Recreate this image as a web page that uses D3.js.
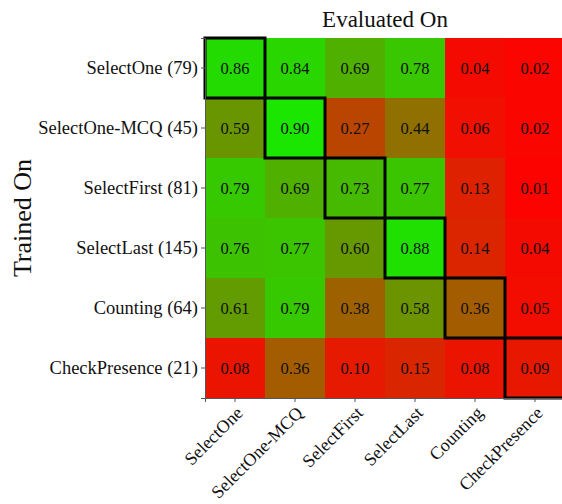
<!DOCTYPE html>
<html>
<head>
<meta charset="utf-8">
<script src="https://cdn.jsdelivr.net/npm/d3@7"></script>
<style>
  body { margin: 0; background: #fff; }
  svg { display: block; font-family: "Liberation Serif", "DejaVu Serif", serif; }
</style>
</head>
<body>
<div id="chart"></div>
<script>
// trained-on tasks (rows) and evaluated-on tasks (columns)
const trainedOn = ["SelectOne (79)", "SelectOne-MCQ (45)", "SelectFirst (81)", "SelectLast (145)", "Counting (64)", "CheckPresence (21)"];
const evaluatedOn = ["SelectOne", "SelectOne-MCQ", "SelectFirst", "SelectLast", "Counting", "CheckPresence"];
const scores = [
  [0.86, 0.84, 0.69, 0.78, 0.04, 0.02],
  [0.59, 0.90, 0.27, 0.44, 0.06, 0.02],
  [0.79, 0.69, 0.73, 0.77, 0.13, 0.01],
  [0.76, 0.77, 0.60, 0.88, 0.14, 0.04],
  [0.61, 0.79, 0.38, 0.58, 0.36, 0.05],
  [0.08, 0.36, 0.10, 0.15, 0.08, 0.09]
];

const width = 562, height = 504;
const margin = {top: 38, right: -3, bottom: 106, left: 205};

const svg = d3.select("#chart").append("svg")
  .attr("width", width)
  .attr("height", height);

const g = svg.append("g")
  .attr("transform", "translate(" + margin.left + "," + margin.top + ")");

const w = width - margin.left - margin.right,
      h = height - margin.top - margin.bottom;

const x = d3.scaleBand().domain(evaluatedOn).range([0, w]);
const y = d3.scaleBand().domain(trainedOn).range([0, h]);
const color = d3.scaleLinear().domain([0, 1])
  .range(["#ff0000", "#00ff00"])
  .interpolate(d3.interpolateRgb);

const cells = [];
scores.forEach(function(row, i) {
  row.forEach(function(v, j) {
    cells.push({r: trainedOn[i], c: evaluatedOn[j], v: v, diag: i === j});
  });
});

g.selectAll("rect.cell")
  .data(cells)
  .enter().append("rect")
  .attr("class", "cell")
  .attr("x", function(d) { return x(d.c); })
  .attr("y", function(d) { return y(d.r); })
  .attr("width", x.bandwidth() + 0.5)
  .attr("height", y.bandwidth() + 0.5)
  .attr("fill", function(d) { return color(d.v); });

g.selectAll("text.val")
  .data(cells)
  .enter().append("text")
  .attr("class", "val")
  .attr("x", function(d) { return x(d.c) + x.bandwidth() / 2; })
  .attr("y", function(d) { return y(d.r) + y.bandwidth() / 2; })
  .attr("dy", "0.35em")
  .attr("text-anchor", "middle")
  .attr("font-size", 16.5)
  .attr("fill", "#111")
  .text(function(d) { return d.v.toFixed(2); });

// diagonal boxes
g.selectAll("rect.diag")
  .data(cells.filter(function(d) { return d.diag; }))
  .enter().append("rect")
  .attr("class", "diag")
  .attr("x", function(d) { return x(d.c); })
  .attr("y", function(d) { return y(d.r); })
  .attr("width", x.bandwidth())
  .attr("height", y.bandwidth())
  .attr("fill", "none")
  .attr("stroke", "#000")
  .attr("stroke-width", 3);

// axes
const yAxis = g.append("g")
  .call(d3.axisLeft(y).tickSize(4).tickPadding(3));
yAxis.select(".domain").attr("stroke", "#555");
yAxis.selectAll(".tick line").attr("stroke", "#555");
yAxis.selectAll("text")
  .attr("font-family", "Liberation Serif, serif")
  .attr("font-size", 18.5)
  .attr("fill", "#111");

const xAxis = g.append("g")
  .attr("transform", "translate(0," + h + ")")
  .call(d3.axisBottom(x).tickSize(4));
xAxis.select(".domain").attr("stroke", "#555");
xAxis.selectAll(".tick line").attr("stroke", "#555");
xAxis.selectAll("text")
  .attr("font-family", "Liberation Serif, serif")
  .attr("font-size", 18)
  .attr("fill", "#111")
  .attr("text-anchor", "end")
  .attr("y", 0)
  .attr("dy", 0)
  .attr("transform", "translate(9,16) rotate(-45)");

svg.append("text")
  .attr("x", margin.left + 180)
  .attr("y", 27)
  .attr("text-anchor", "middle")
  .attr("font-size", 23)
  .attr("fill", "#111")
  .text("Evaluated On");

svg.append("text")
  .attr("transform", "translate(31," + (margin.top + h / 2) + ") rotate(-90)")
  .attr("text-anchor", "middle")
  .attr("font-size", 26)
  .attr("fill", "#111")
  .text("Trained On");
</script>
</body>
</html>
